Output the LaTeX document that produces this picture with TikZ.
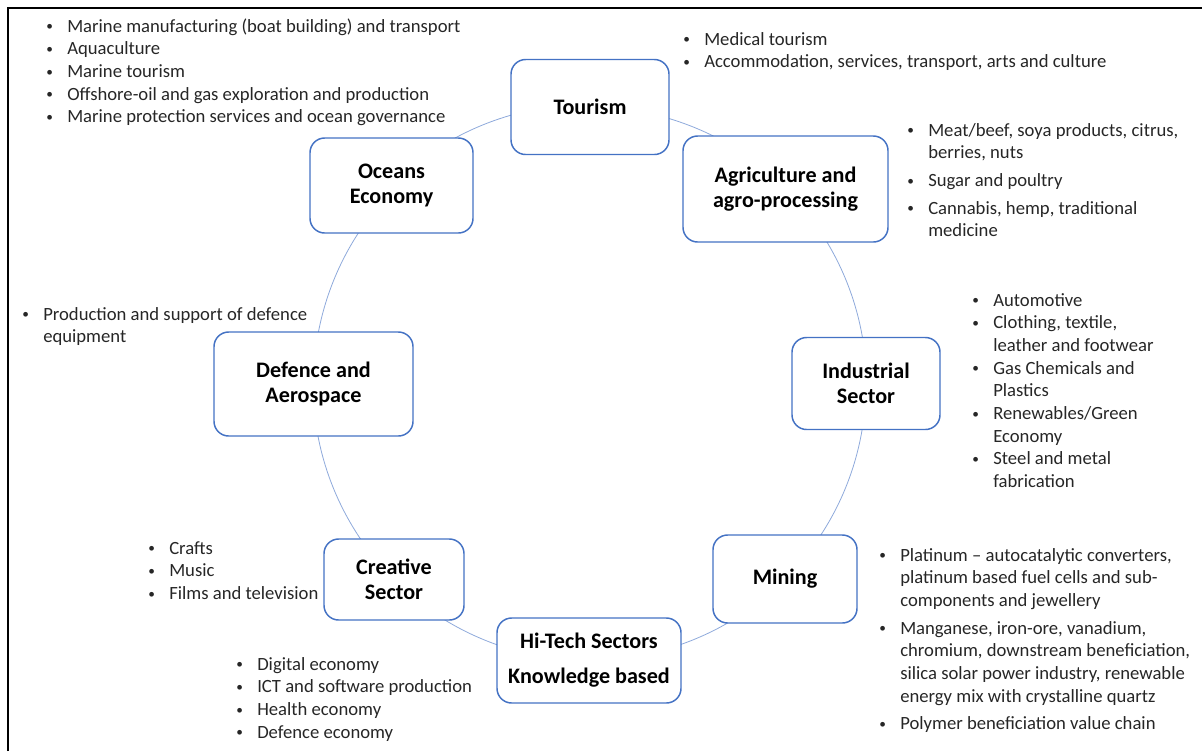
\documentclass[tikz,border=0pt]{standalone}
\usepackage{fontspec}
\setmainfont{Carlito}
\usepackage[HTML]{xcolor}
\usetikzlibrary{positioning, backgrounds}

\definecolor{boxblue}{HTML}{4472C4}
\definecolor{ringblue}{HTML}{8EA9DB}
\definecolor{listgray}{HTML}{262626}
\newcommand{\bitem}{\makebox[15.75pt][l]{\raisebox{1pt}{\fontsize{10}{10}\selectfont\textbullet}}}

\begin{document}
\begin{tikzpicture}[x=0.75pt,y=-0.75pt,
  sector/.style={draw=boxblue, line width=1.1pt, rounded corners=11pt, fill=white,
    align=center, inner sep=2pt, font=\fontsize{16.6}{18.75}\selectfont\bfseries},
  list/.style={anchor=base west, inner sep=0pt, text=listgray,
    font=\fontsize{14}{17}\selectfont},
  ring/.style={draw=ringblue, line width=0.6pt}]
\useasboundingbox (0,0) rectangle (1202,751);

% frame
\draw[line width=1.1pt] (8,751) -- (8,8) -- (1202,8);

% sectors
\node[sector, minimum width=118.5pt, minimum height=71.25pt] (Tour) at (590,107) {Tourism};
\node[sector, minimum width=153.75pt, minimum height=79.5pt] (Agri) at (785.5,189) {Agriculture and\\agro-processing};
\node[sector, minimum width=111pt, minimum height=69pt] (Ind) at (866,383.5) {Industrial\\Sector};
\node[sector, minimum width=108pt, minimum height=66pt] (Min) at (785,579) {Mining};
\node[sector, minimum width=138pt, minimum height=63.75pt] (HiT) at (589,660.5) {Hi-Tech Sectors\\[7.5pt]Knowledge based};
\node[sector, minimum width=105pt, minimum height=60.75pt] (Cre) at (394,579.5) {Creative\\Sector};
\node[sector, minimum width=149.25pt, minimum height=78pt] (Def) at (313.5,384) {Defence and\\Aerospace};
\node[sector, minimum width=122.25pt, minimum height=71.25pt] (Oce) at (391.5,185.5) {Oceans\\Economy};

% ring between sectors
\begin{scope}[on background layer]
\draw[ring] (Tour.center) arc[start angle=-90, end angle=-45, radius=276.5];
\draw[ring] (Agri.center) arc[start angle=-45, end angle=0, radius=276.5];
\draw[ring] (Ind.center) arc[start angle=0, end angle=45, radius=276.5];
\draw[ring] (Min.center) arc[start angle=45, end angle=90, radius=276.5];
\draw[ring] (HiT.center) arc[start angle=90, end angle=135, radius=276.5];
\draw[ring] (Cre.center) arc[start angle=135, end angle=180, radius=276.5];
\draw[ring] (Def.center) arc[start angle=180, end angle=225, radius=276.5];
\draw[ring] (Oce.center) arc[start angle=225, end angle=270, radius=276.5];
\end{scope}

% bullet lists
\node[list] (OceL) at (46,32) {\begin{tabular}[t]{@{}l@{}l@{}}
\bitem & Marine manufacturing (boat building) and transport\\
\bitem & Aquaculture\\
\bitem & Marine tourism\\
\bitem & Offshore-oil and gas exploration and production\\
\bitem & Marine protection services and ocean governance
\end{tabular}};

\node[list] (TourL) at (683,45) {\begin{tabular}[t]{@{}l@{}l@{}}
\bitem & Medical tourism\\
\bitem & Accommodation, services, transport, arts and culture
\end{tabular}};

\node[list] (AgriL) at (907,136) {\begin{tabular}[t]{@{}l@{}l@{}}
\bitem & Meat/beef, soya products, citrus,\\
 & berries, nuts\\[3.75pt]
\bitem & Sugar and poultry\\[3.75pt]
\bitem & Cannabis, hemp, traditional\\
 & medicine
\end{tabular}};

\node[list] (IndL) at (972,306) {\begin{tabular}[t]{@{}l@{}l@{}}
\bitem & Automotive\\
\bitem & Clothing, textile,\\
 & leather and footwear\\
\bitem & Gas Chemicals and\\
 & Plastics\\
\bitem & Renewables/Green\\
 & Economy\\
\bitem & Steel and metal\\
 & fabrication
\end{tabular}};

\node[list] (MinL) at (879,561) {\begin{tabular}[t]{@{}l@{}l@{}}
\bitem & Platinum -- autocatalytic converters,\\
 & platinum based fuel cells and sub-\\
 & components and jewellery\\[3.75pt]
\bitem & Manganese, iron-ore, vanadium,\\
 & chromium, downstream beneficiation,\\
 & silica solar power industry, renewable\\
 & energy mix with crystalline quartz\\[3.75pt]
\bitem & Polymer beneficiation value chain
\end{tabular}};

\node[list] (HiTL) at (236,670) {\begin{tabular}[t]{@{}l@{}l@{}}
\bitem & Digital economy\\
\bitem & ICT and software production\\
\bitem & Health economy\\
\bitem & Defence economy
\end{tabular}};

\node[list] (CreL) at (148,554) {\begin{tabular}[t]{@{}l@{}l@{}}
\bitem & Crafts\\
\bitem & Music\\
\bitem & Films and television
\end{tabular}};

\node[list] (DefL) at (22,320) {\begin{tabular}[t]{@{}l@{}l@{}}
\bitem & Production and support of defence\\
 & equipment
\end{tabular}};
\end{tikzpicture}
\end{document}
